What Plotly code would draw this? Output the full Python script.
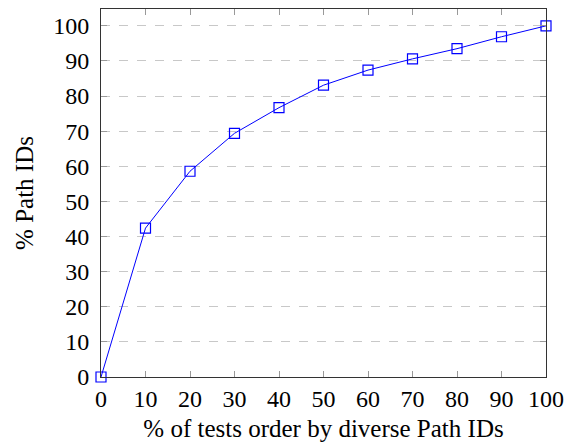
import plotly.graph_objects as go

x_vals = [0, 10, 20, 30, 40, 50, 60, 70, 80, 90, 100]
y_vals = [0, 42.4, 58.6, 69.4, 76.7, 83.1, 87.4, 90.6, 93.5, 96.9, 100]
tick_vals = [0, 10, 20, 30, 40, 50, 60, 70, 80, 90, 100]
x_title = "% of tests order by diverse Path IDs"
y_title = "% Path IDs"

font = dict(family="Liberation Serif, Times New Roman, serif", size=24, color="black")
title_font = dict(family="Liberation Serif, Times New Roman, serif", size=25, color="black")

fig = go.Figure()
fig.add_trace(go.Scatter(
    x=x_vals, y=y_vals, mode="lines+markers",
    line=dict(color="blue", width=1),
    marker=dict(symbol="square-open", size=10, color="blue", line=dict(width=1.2, color="blue")),
    showlegend=False, cliponaxis=False,
))

fig.update_layout(
    width=565, height=443,
    margin=dict(l=101, r=19, t=9, b=66),
    paper_bgcolor="white", plot_bgcolor="white",
    font=font,
)
fig.update_xaxes(
    range=[0, 100], tickvals=tick_vals, ticktext=[str(v) for v in tick_vals],
    showgrid=False, zeroline=False, automargin=False,
    showline=True, linecolor="#333", linewidth=1, mirror="allticks",
    ticks="inside", ticklen=6, tickcolor="#999", tickwidth=1,
    ticklabelstandoff=0,
    title=dict(text=x_title, standoff=8, font=title_font), tickfont=font,
)
fig.update_yaxes(
    range=[0, 104.8], tickvals=tick_vals, ticktext=[str(v) for v in tick_vals],
    showgrid=True, gridcolor="#c8c8c8", griddash="dash", gridwidth=1,
    zeroline=False, automargin=False,
    showline=True, linecolor="#333", linewidth=1, mirror="allticks",
    ticks="inside", ticklen=6, tickcolor="#999", tickwidth=1,
    ticklabelstandoff=6,
    title=dict(text=y_title, standoff=12, font=title_font), tickfont=font,
)

fig.write_html("out.html", config={"displayModeBar": False},
               post_script="document.body.style.margin='0';document.body.style.overflow='hidden';")
